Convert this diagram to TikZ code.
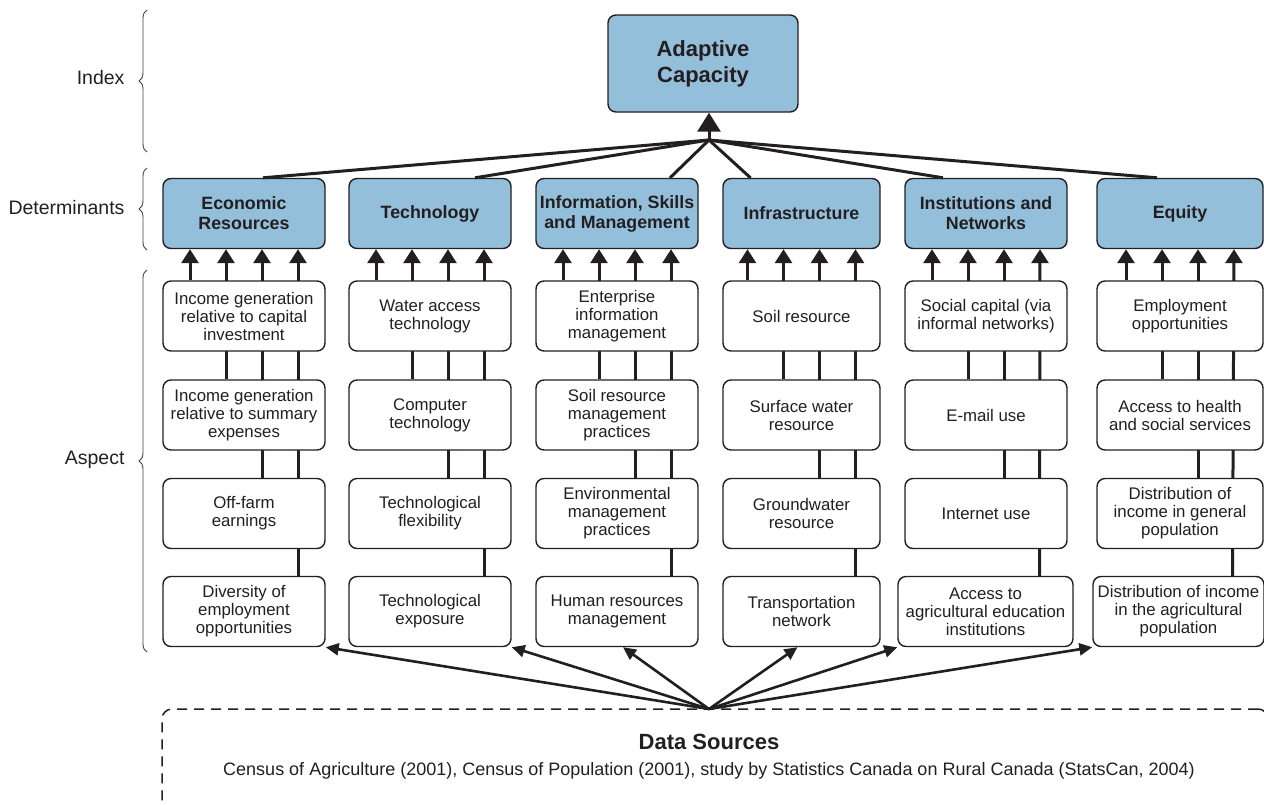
\documentclass[tikz,border=0pt]{standalone}
\usepackage{fontspec}
\setmainfont{Liberation Sans}
\usetikzlibrary{arrows.meta, backgrounds, decorations.pathreplacing}
\definecolor{CapBlue}{HTML}{94BFDB}
\definecolor{Ink}{HTML}{231F20}

\begin{document}
\begin{tikzpicture}[x=1pt, y=-1pt,
  every node/.style={text=Ink},
  aspect/.style={draw=Ink, line width=1.4pt, rounded corners=8pt, fill=white,
    minimum width=162pt, minimum height=70pt, inner sep=1pt, align=center,
    font=\fontsize{16.8}{18}\selectfont},
  determinant/.style={aspect, fill=CapBlue, font=\fontsize{17.8}{20}\selectfont\bfseries},
  index/.style={determinant, minimum width=190pt, minimum height=97pt,
    font=\fontsize{22}{26}\selectfont\bfseries},
  feed/.style={draw=Ink, line width=3pt, -{Triangle[width=17pt, length=14pt]}},
  spoke/.style={draw=Ink, line width=3pt},
  source/.style={draw=Ink, line width=2.6pt, -{Triangle[width=12pt, length=13pt]}},
  level/.style={anchor=east, font=\fontsize{19.5}{22}\selectfont},
  bracket/.style={draw=Ink!85, line width=0.9pt, decorate,
    decoration={brace, amplitude=8pt}}]
  \clip (0,0) rectangle (1264,804);

  \node[level] (idxlabel) at (128,78) {Index};
  \node[level] (detlabel) at (128,208) {Determinants};
  \node[level] (asplabel) at (128,460) {Aspect};
  \draw[bracket] (147,152) -- (147,10);
  \draw[bracket] (147,250) -- (147,168);
  \draw[bracket] (147,652) -- (147,270);

  \node[index] (cap) at (703,63.5) {Adaptive\\Capacity};

  \node[determinant] (d1) at (244,213.5) {Economic\\Resources};
  \node[determinant] (d2) at (430,213.5) {Technology};
  \node[determinant] (d3) at (617,213.5) {Information, Skills\\and Management};
  \node[determinant, minimum width=157pt] (d4) at (801.5,213.5) {Infrastructure};
  \node[determinant] (d5) at (986,213.5) {Institutions and\\Networks};
  \node[determinant, minimum width=166pt] (d6) at (1180,213.5) {Equity};

  \node[aspect] (a11) at (244,316) {Income generation\\relative to capital\\investment};
  \node[aspect] (a12) at (244,415) {Income generation\\relative to summary\\expenses};
  \node[aspect] (a13) at (244,513.5) {Off-farm\\earnings};
  \node[aspect] (a14) at (244,611.5) {Diversity of\\employment\\opportunities};

  \node[aspect] (a21) at (430,316) {Water access\\technology};
  \node[aspect] (a22) at (430,415) {Computer\\technology};
  \node[aspect] (a23) at (430,513.5) {Technological\\flexibility};
  \node[aspect] (a24) at (430,611.5) {Technological\\exposure};

  \node[aspect] (a31) at (617,316) {Enterprise\\information\\management};
  \node[aspect] (a32) at (617,415) {Soil resource\\management\\practices};
  \node[aspect] (a33) at (617,513.5) {Environmental\\management\\practices};
  \node[aspect] (a34) at (617,611.5) {Human resources\\management};

  \node[aspect, minimum width=157pt] (a41) at (801.5,316) {Soil resource};
  \node[aspect, minimum width=157pt] (a42) at (801.5,415) {Surface water\\resource};
  \node[aspect, minimum width=157pt] (a43) at (801.5,513.5) {Groundwater\\resource};
  \node[aspect, minimum width=157pt] (a44) at (801.5,611.5) {Transportation\\network};

  \node[aspect] (a51) at (986,316) {Social capital (via\\informal networks)};
  \node[aspect] (a52) at (986,415) {E-mail use};
  \node[aspect] (a53) at (986,513.5) {Internet use};
  \node[aspect, minimum width=175pt] (a54) at (985.5,611.5) {Access to\\agricultural education\\institutions};

  \node[aspect, minimum width=166pt] (a61) at (1180,316) {Employment\\opportunities};
  \node[aspect, minimum width=166pt] (a62) at (1180,415) {Access to health\\and social services};
  \node[aspect, minimum width=166pt] (a63) at (1180,513.5) {Distribution of\\income in general\\population};
  \node[aspect, minimum width=171pt] (a64) at (1178.5,611.5) {Distribution of income\\in the agricultural\\population};

  \begin{scope}[on background layer]
    \foreach \c in {1,...,6}
      \foreach \r/\dx in {1/-54,2/-18,3/18,4/54}
        \draw[feed] ([xshift=\dx pt]a\c\r.north) -- ([xshift=\dx pt]d\c.south);
  \end{scope}

  \coordinate (hub) at (709,140);
  \draw[spoke] ([xshift=19pt]d1.north) -- (hub);
  \draw[spoke] ([xshift=45pt]d2.north) -- (hub);
  \draw[spoke] ([xshift=53pt]d3.north) -- (hub);
  \draw[spoke] ([xshift=-51pt]d4.north) -- (hub);
  \draw[spoke] ([xshift=-43pt]d5.north) -- (hub);
  \draw[spoke] ([xshift=-23pt]d6.north) -- (hub);
  \draw[spoke, -{Triangle[width=23pt, length=19pt]}] (hub) -- (hub |- cap.south);

  \node[draw=Ink, line width=1.5pt, dash pattern=on 10pt off 7pt, rounded corners=10pt,
    minimum width=1106pt, minimum height=106pt] (sources) at (715,762) {};
  \node[font=\fontsize{22}{26}\selectfont\bfseries] (srctitle) at (709,742) {Data Sources};
  \node[font=\fontsize{18}{20}\selectfont] (srcnote) at (709,771)
    {Census of Agriculture (2001), Census of Population (2001), study by Statistics Canada on Rural Canada (StatsCan, 2004)};

  \coordinate (feedin) at (709,709);
  \draw[source] (feedin) -- (a14.south east);
  \draw[source] (feedin) -- (a24.south east);
  \draw[source] (feedin) -- ([xshift=6pt]a34.south);
  \draw[source] (feedin) -- ([xshift=-4pt]a44.south);
  \draw[source] (feedin) -- (a54.south west);
  \draw[source] (feedin) -- (a64.south west);
\end{tikzpicture}
\end{document}
